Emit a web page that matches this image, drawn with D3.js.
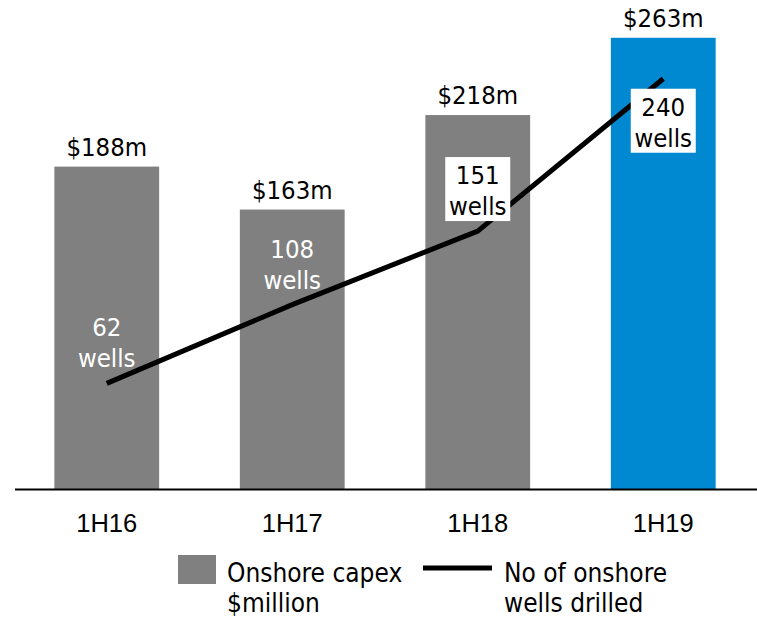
<!DOCTYPE html>
<html lang="en">

<head>
    <meta charset="UTF-8" />
    <title>Onshore capex and wells drilled</title>
    <style>
        body {
            margin: 0;
            background: #fff;
        }

        svg {
            display: block;
            font-family: "DejaVu Sans Condensed", "DejaVu Sans", sans-serif;
            font-stretch: condensed;
        }
    </style>
</head>

<body>
    <svg></svg>
    <script src="https://d3js.org/d3.v7.min.js"></script>
    <script>
        const periods = ["1H16", "1H17", "1H18", "1H19"];
        const capex = [188, 163, 218, 263];
        const wells = [62, 108, 151, 240];
        const capexLabels = ["$188m", "$163m", "$218m", "$263m"];
        const legendLabels = [["Onshore capex", "$million"], ["No of onshore", "wells drilled"]];

        const width = 757;
        const height = 617;
        const baseline = 489.5;
        const FONT = 25.5;
        const LEGEND_FONT = 26;

        const svg = d3.select("svg")
            .attr("width", width)
            .attr("height", height);

        const x = d3.scaleBand()
            .domain(periods)
            .range([14, 756])
            .paddingInner(0.435)
            .paddingOuter(0.2175);

        const y = d3.scaleLinear().domain([0, 285]).range([baseline, 0]);
        const yWells = d3.scaleLinear().domain([0, 286]).range([baseline, 0]);

        const cx = d => x(d) + x.bandwidth() / 2;

        // bars
        svg.selectAll("rect.bar")
            .data(periods)
            .enter()
            .append("rect")
            .attr("class", "bar")
            .attr("x", d => x(d))
            .attr("width", x.bandwidth())
            .attr("y", (d, i) => y(capex[i]))
            .attr("height", (d, i) => baseline - y(capex[i]))
            .attr("fill", (d, i) => i === periods.length - 1 ? "#0088d0" : "#808080");

        // value labels above bars
        svg.selectAll("text.val")
            .data(periods)
            .enter()
            .append("text")
            .attr("class", "val")
            .attr("x", cx)
            .attr("y", (d, i) => y(capex[i]) - 11)
            .attr("text-anchor", "middle")
            .attr("font-size", FONT)
            .attr("fill", "#000")
            .text((d, i) => capexLabels[i]);

        // x axis
        const axis = svg.append("g")
            .attr("transform", `translate(0,${baseline})`)
            .call(d3.axisBottom(x).tickSize(0).tickSizeOuter(0));
        axis.select(".domain")
            .attr("stroke", "#000")
            .attr("stroke-width", 2)
            .attr("d", `M15,0H${width}`);
        axis.selectAll("text")
            .attr("font-family", null)
            .attr("font-size", FONT)
            .attr("fill", "#000")
            .attr("dy", null)
            .attr("y", 42);

        // wells line
        const pts = periods.map((d, i) => [cx(d), yWells(wells[i])]);
        svg.append("path")
            .attr("d", d3.line()(pts))
            .attr("fill", "none")
            .attr("stroke", "#000")
            .attr("stroke-width", 5)
            .attr("stroke-linejoin", "round");

        // wells labels
        const lineGap = 31;
        periods.forEach((d, i) => {
            const last = i === periods.length - 1;
            const px = pts[i][0];
            const py = pts[i][1];
            // box spans ~64px; above the point except the last one
            const boxTop = last ? py + 10 : py - 10 - 64;
            const g = svg.append("g");
            if (i >= 2) {
                g.append("rect")
                    .attr("x", px - 32.5)
                    .attr("y", boxTop)
                    .attr("width", 65)
                    .attr("height", 64)
                    .attr("fill", "#fff");
            }
            const t = g.append("text")
                .attr("text-anchor", "middle")
                .attr("font-size", FONT)
                .attr("fill", i >= 2 ? "#000" : "#fff");
            t.append("tspan").attr("x", px).attr("y", boxTop + 27).text(wells[i]);
            t.append("tspan").attr("x", px).attr("y", boxTop + 27 + lineGap).text("wells");
        });

        // legend
        const legend = svg.append("g");
        legend.append("rect")
            .attr("x", 178).attr("y", 555)
            .attr("width", 38).attr("height", 29)
            .attr("fill", "#808080");
        legend.append("line")
            .attr("x1", 423).attr("x2", 492)
            .attr("y1", 568).attr("y2", 568)
            .attr("stroke", "#000")
            .attr("stroke-width", 5);

        [227, 504].forEach((lx, k) => {
            const t = legend.append("text")
                .attr("font-size", LEGEND_FONT)
                .attr("fill", "#000");
            legendLabels[k].forEach((s, j) => {
                t.append("tspan").attr("x", lx).attr("y", 582 + j * 30).text(s);
            });
        });
    </script>
</body>

</html>
